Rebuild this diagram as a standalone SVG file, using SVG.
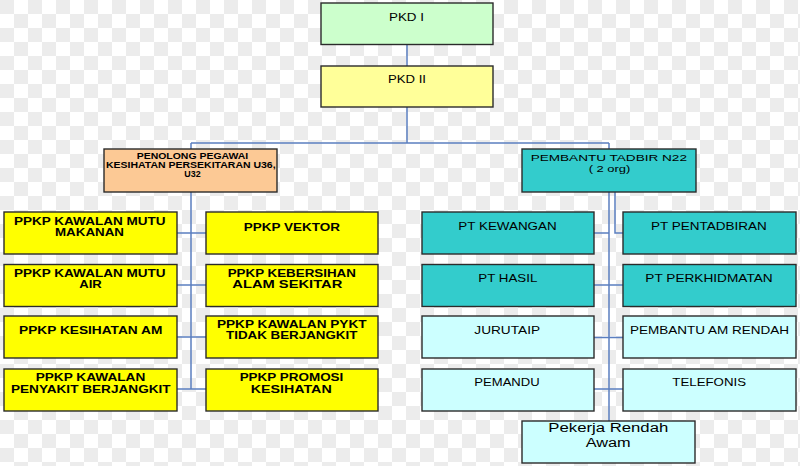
<svg xmlns="http://www.w3.org/2000/svg" width="800" height="466" viewBox="0 0 800 466">
<defs>
<pattern id="chk" x="0" y="0" width="28" height="28" patternUnits="userSpaceOnUse">
<rect width="28" height="28" fill="#ffffff"/>
<rect width="14" height="14" fill="#ececec"/>
<rect x="14" y="14" width="14" height="14" fill="#ececec"/>
</pattern>
</defs>
<style>
.b{stroke:#2b2b2b;stroke-width:1.4}
.g{fill:#ccffcc}.ly{fill:#ffff99}.pe{fill:#fcc995}.te{fill:#33cccc}.y{fill:#ffff00}.lc{fill:#ccffff}
text{font-family:"Liberation Sans",Arial,sans-serif;fill:#000;text-anchor:middle}
.r{font-size:10.5px}
.bd{font-size:10.5px;font-weight:bold}
.s{font-size:9px;font-weight:bold}
.m{font-size:9.5px}
.l{font-size:12px}
.c{fill:none;stroke:#5b7fc0;stroke-width:1.5}
</style>
<rect width="800" height="466" fill="url(#chk)"/>
<g id="connectors" class="c">
<path d="M407,44V66M407,107V143M191,143H609M191,143V149M609,143V149"/>
<path d="M191,192V389M177,233H206M177,285H206M177,337H206M177,389H206"/>
<path d="M609,192V421M615,192V233H623M594,233H609M594,285H623M594,337.5H623M594,389H623"/>
</g>
<g id="pkd1"><rect class="b g" x="321" y="3" width="172" height="41.5"/><text class="r" x="406.5" y="21" textLength="35" lengthAdjust="spacingAndGlyphs">PKD I</text></g>
<g id="pkd2"><rect class="b ly" x="321" y="66" width="172" height="41"/><text class="r" x="407" y="83.3" textLength="38" lengthAdjust="spacingAndGlyphs">PKD II</text></g>
<g id="penolong"><rect class="b pe" x="104" y="149" width="173" height="43"/>
<text class="s" x="192.5" y="159.3" textLength="111.6" lengthAdjust="spacingAndGlyphs">PENOLONG PEGAWAI</text>
<text class="s" x="190.8" y="168" textLength="169.7" lengthAdjust="spacingAndGlyphs">KESIHATAN PERSEKITARAN  U36,</text>
<text class="s" x="192.5" y="176.7" textLength="16.3" lengthAdjust="spacingAndGlyphs">U32</text></g>
<g id="pembantu"><rect class="b te" x="522" y="149" width="174" height="43"/>
<text class="m" x="608.8" y="160.7" textLength="156.3" lengthAdjust="spacingAndGlyphs">PEMBANTU TADBIR N22</text>
<text class="m" x="609.5" y="172.3" textLength="41.7" lengthAdjust="spacingAndGlyphs">( 2 org)</text></g>
<g id="mutu-makanan"><rect class="b y" x="4" y="212" width="173" height="42"/>
<text class="bd" x="89.8" y="225" textLength="151.7" lengthAdjust="spacingAndGlyphs">PPKP KAWALAN MUTU</text>
<text class="bd" x="89.5" y="236" textLength="69" lengthAdjust="spacingAndGlyphs">MAKANAN</text></g>
<g id="vektor"><rect class="b y" x="206" y="212" width="172" height="42"/>
<text class="bd" x="291.8" y="230.7" textLength="96.3" lengthAdjust="spacingAndGlyphs">PPKP VEKTOR</text></g>
<g id="mutu-air"><rect class="b y" x="4" y="264.5" width="173" height="42"/>
<text class="bd" x="89.8" y="276.7" textLength="151.7" lengthAdjust="spacingAndGlyphs">PPKP KAWALAN MUTU</text>
<text class="bd" x="90.5" y="287.7" textLength="22.5" lengthAdjust="spacingAndGlyphs">AIR</text></g>
<g id="kebersihan"><rect class="b y" x="206" y="264.5" width="172" height="42"/>
<text class="bd" x="291.8" y="276.7" textLength="128.3" lengthAdjust="spacingAndGlyphs">PPKP KEBERSIHAN</text>
<text class="bd" x="287.3" y="287.7" textLength="110" lengthAdjust="spacingAndGlyphs">ALAM SEKITAR</text></g>
<g id="kesihatan-am"><rect class="b y" x="4" y="316" width="173" height="42"/>
<text class="bd" x="90.7" y="334.3" textLength="143.3" lengthAdjust="spacingAndGlyphs">PPKP KESIHATAN AM</text></g>
<g id="pykt"><rect class="b y" x="206" y="316" width="172" height="42"/>
<text class="bd" x="291.8" y="327.7" textLength="149.7" lengthAdjust="spacingAndGlyphs">PPKP KAWALAN PYKT</text>
<text class="bd" x="291.7" y="339.3" textLength="131.3" lengthAdjust="spacingAndGlyphs">TIDAK BERJANGKIT</text></g>
<g id="penyakit"><rect class="b y" x="4" y="369" width="173" height="42"/>
<text class="bd" x="90.5" y="380.7" textLength="109.7" lengthAdjust="spacingAndGlyphs">PPKP KAWALAN</text>
<text class="bd" x="90.8" y="392.7" textLength="159.7" lengthAdjust="spacingAndGlyphs">PENYAKIT BERJANGKIT</text></g>
<g id="promosi"><rect class="b y" x="206" y="369" width="172" height="42"/>
<text class="bd" x="291.5" y="380.7" textLength="103.7" lengthAdjust="spacingAndGlyphs">PPKP PROMOSI</text>
<text class="bd" x="291.2" y="392.7" textLength="81" lengthAdjust="spacingAndGlyphs">KESIHATAN</text></g>
<g id="kewangan"><rect class="b te" x="422" y="212" width="172" height="42"/>
<text class="r" x="507.5" y="230" textLength="98.3" lengthAdjust="spacingAndGlyphs">PT KEWANGAN</text></g>
<g id="pentadbiran"><rect class="b te" x="623" y="212" width="173" height="42"/>
<text class="r" x="708.8" y="230" textLength="115.7" lengthAdjust="spacingAndGlyphs">PT PENTADBIRAN</text></g>
<g id="hasil"><rect class="b te" x="422" y="264.5" width="172" height="42"/>
<text class="r" x="507.8" y="282.3" textLength="59" lengthAdjust="spacingAndGlyphs">PT HASIL</text></g>
<g id="perkhidmatan"><rect class="b te" x="623" y="264.5" width="173" height="42"/>
<text class="r" x="709" y="282.3" textLength="127.3" lengthAdjust="spacingAndGlyphs">PT PERKHIDMATAN</text></g>
<g id="jurutaip"><rect class="b lc" x="422" y="316" width="172" height="42"/>
<text class="r" x="507.2" y="334.3" textLength="65.7" lengthAdjust="spacingAndGlyphs">JURUTAIP</text></g>
<g id="pembantu-am"><rect class="b lc" x="623" y="316" width="173" height="42"/>
<text class="r" x="709.5" y="334.3" textLength="159" lengthAdjust="spacingAndGlyphs">PEMBANTU AM RENDAH</text></g>
<g id="pemandu"><rect class="b lc" x="422" y="369" width="172" height="42"/>
<text class="r" x="507" y="386" textLength="65.3" lengthAdjust="spacingAndGlyphs">PEMANDU</text></g>
<g id="telefonis"><rect class="b lc" x="623" y="369" width="173" height="42"/>
<text class="r" x="709.2" y="386" textLength="73.7" lengthAdjust="spacingAndGlyphs">TELEFONIS</text></g>
<g id="pekerja"><rect class="b lc" x="522" y="421" width="173" height="42"/>
<text class="l" x="608.3" y="431.7" textLength="120" lengthAdjust="spacingAndGlyphs">Pekerja Rendah</text>
<text class="l" x="608.2" y="446.7" textLength="45" lengthAdjust="spacingAndGlyphs">Awam</text></g>
</svg>
